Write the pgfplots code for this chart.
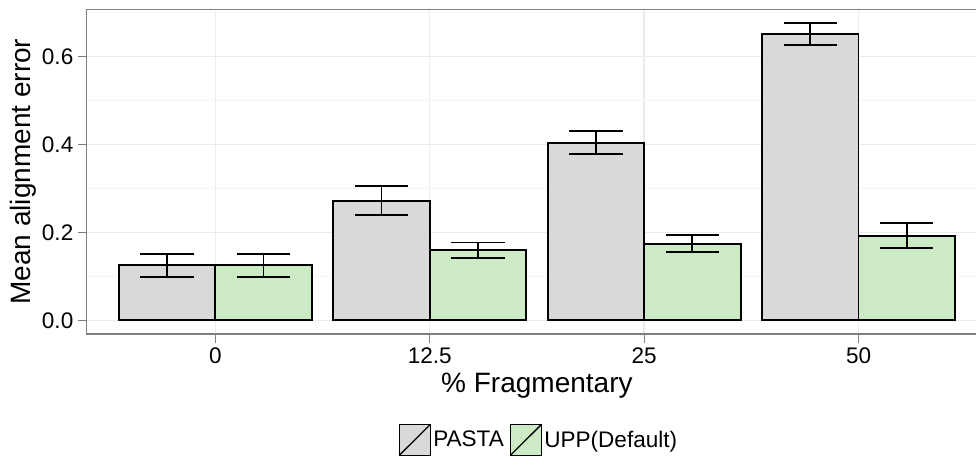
\documentclass[border=0pt]{standalone}
\usepackage{pgfplots}
\usepackage{pgfplotstable}
\pgfplotsset{compat=1.18}
\usepackage{fontspec}
\setmainfont{Liberation Sans}
\definecolor{pgray}{HTML}{D9D9D9}
\definecolor{pgreen}{HTML}{CCEBC5}
\definecolor{gridmaj}{HTML}{EBEBEB}
\definecolor{gridmin}{HTML}{F5F5F5}
\definecolor{framec}{HTML}{7F7F7F}

\pgfplotstableread{
x y e
0.775 0.125 0.026
1.775 0.272 0.033
2.775 0.404 0.026
3.775 0.651 0.025
}\pasta
\pgfplotstableread{
x y e
1.225 0.125 0.026
2.225 0.159 0.018
3.225 0.174 0.0195
4.225 0.1925 0.0285
}\upp

\begin{document}
\begin{tikzpicture}
\begin{axis}[
  scale only axis, width=675.4pt, height=243.5pt,
  xmin=0.4, xmax=4.6, ymin=-0.0312, ymax=0.7077,
  xtick={1,2,3,4}, xticklabels={0,12.5,25,50},
  ytick={0,0.2,0.4,0.6}, minor ytick={0.1,0.3,0.5,0.7},
  grid=both,
  major grid style={gridmaj, line width=1.1pt},
  minor grid style={gridmin, line width=0.6pt},
  axis line style={framec, line width=0.9pt},
  tick align=outside, major tick length=6.5pt, minor tick length=0pt,
  tick style={framec, line width=0.8pt},
  tick pos=left,
  yticklabel style={/pgf/number format/.cd, fixed, fixed zerofill, precision=1},
  /pgf/number format/assume math mode=true,
  ticklabel style={font=\fontsize{16.9}{18}\selectfont, black},
  label style={font=\fontsize{21}{24}\selectfont},
  xlabel={\% Fragmentary}, ylabel={Mean alignment error},
  xlabel style={at={(axis description cs:0.5,-0.1817)}, anchor=base},
  ylabel style={at={(axis description cs:-0.0707,0.5)}, anchor=center},
  legend columns=2,
  legend cell align=left,
  legend style={at={(axis description cs:0.5023,-0.3265)}, anchor=center,
    draw=none, fill=none, inner sep=0pt,
    font=\fontsize{16.9}{18}\selectfont,
    nodes={inner sep=1.8pt},
    /tikz/every even column/.append style={column sep=2.5pt}},
]
\addplot[ybar, bar width=0.45, bar shift=0pt, fill=pgray, draw=black, line width=1.4pt, forget plot,
  error bars/.cd, y dir=both, y explicit, error mark=|,
  error bar style={line width=1.4pt, black},
  error mark options={line width=1.4pt, mark size=20pt, black}]
  table[x=x, y=y, y error=e]{\pasta};
\addplot[ybar, bar width=0.45, bar shift=0pt, fill=pgreen, draw=black, line width=1.4pt, forget plot,
  error bars/.cd, y dir=both, y explicit, error mark=|,
  error bar style={line width=1.4pt, black},
  error mark options={line width=1.4pt, mark size=20pt, black}]
  table[x=x, y=y, y error=e]{\upp};
\addlegendimage{legend image code/.code={
  \draw[line width=1pt, fill=pgray] (0pt,-11.6pt) rectangle (23.3pt,11.6pt);
  \draw[line width=1pt] (0pt,-11.6pt) -- (23.3pt,11.6pt);}}
\addlegendentry{PASTA}
\addlegendimage{legend image code/.code={
  \draw[line width=1pt, fill=pgreen] (0pt,-11.6pt) rectangle (23.3pt,11.6pt);
  \draw[line width=1pt] (0pt,-11.6pt) -- (23.3pt,11.6pt);}}
\addlegendentry{UPP(Default)}
\end{axis}
\pgfresetboundingbox
\path ([shift={(-65pt,-93pt)}]current axis.south west) rectangle ([shift={(667pt,250.5pt)}]current axis.south west);
\end{tikzpicture}
\end{document}
